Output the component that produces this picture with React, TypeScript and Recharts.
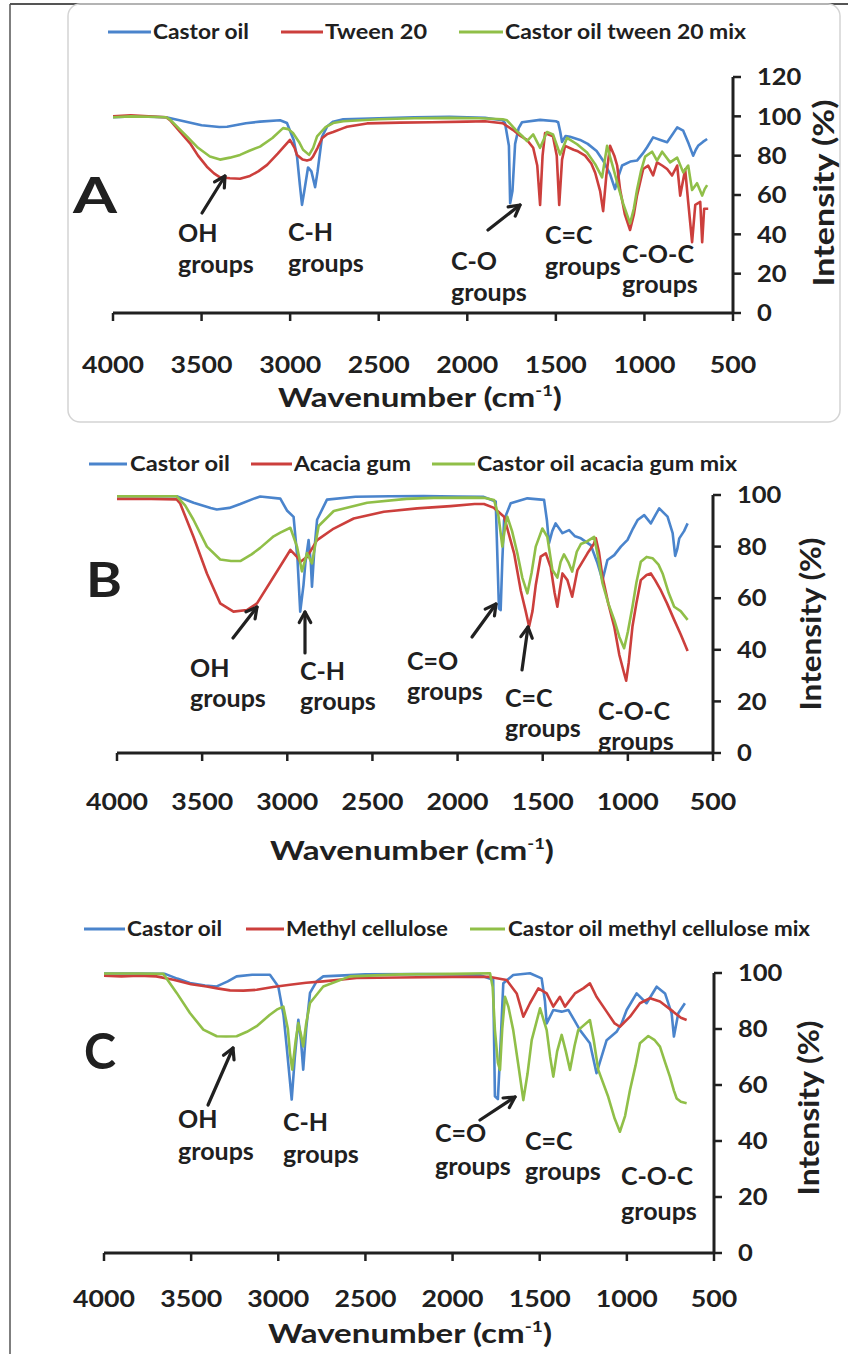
import React from "react";
import { LineChart, Line, XAxis, YAxis } from "recharts";

const FONT = "Lato, 'Open Sans', Arial, sans-serif";
const INK = "#202020";
const BLUE = "#4a84cc";
const RED = "#cc3f3c";
const GREEN = "#90bf48";

const xTicks = [4000, 3500, 3000, 2500, 2000, 1500, 1000, 500];
const yTicksA = [0, 20, 40, 60, 80, 100, 120];
const yTicksBC = [0, 20, 40, 60, 80, 100];

type Pt = [number, number]; // [wavenumber, intensity %]

// Panel A: castor oil / tween 20 / mix
const castorA: Pt[] = [
  [4000, 99.5], [3900, 100], [3800, 99.8], [3700, 99.5], [3600, 97.5], [3500, 95.5], [3400, 94.6], [3356, 94.7],
  [3250, 96.5], [3170, 97.3], [3057, 98], [3018, 96.6], [2980, 88], [2961, 79.5], [2945, 65], [2933, 55], [2920, 62],
  [2899, 74], [2880, 72], [2859, 64], [2845, 72], [2820, 89.6], [2790, 95], [2757, 97.3], [2700, 98.5], [2500, 99],
  [2300, 99.5], [2100, 99.8], [1900, 99.2], [1800, 98], [1787, 96.6], [1765, 85], [1758, 55.8], [1745, 62], [1730, 86],
  [1710, 94], [1691, 97], [1589, 98.2], [1500, 97.5], [1487, 97], [1475, 92], [1465, 87], [1445, 90], [1420, 89.6],
  [1363, 88], [1320, 86], [1270, 82.4], [1230, 77], [1194, 70.6], [1166, 63], [1145, 70], [1126, 75], [1080, 77],
  [1042, 77.5], [1010, 81], [985, 84.3], [951, 89.3], [910, 88], [872, 86.8], [840, 91], [815, 94.4], [781, 92.7],
  [750, 86], [725, 80], [710, 83], [697, 85], [670, 87], [646, 88.5],
];
const tweenA: Pt[] = [
  [4000, 100], [3900, 100.5], [3800, 100], [3700, 99.5], [3678, 98], [3620, 92], [3565, 86.3], [3520, 80], [3470, 74.4],
  [3430, 71], [3396, 69], [3340, 68.5], [3283, 68.3], [3227, 69.7], [3180, 72], [3130, 75.3], [3070, 81], [3001, 88],
  [2975, 84], [2961, 80.3], [2930, 78], [2905, 77.5], [2885, 78], [2871, 79.5], [2845, 84], [2820, 88.8], [2790, 91],
  [2757, 92], [2700, 94], [2679, 94.7], [2566, 96.4], [2380, 96.8], [2200, 97], [2003, 97.3], [1900, 97.5], [1800, 96.5],
  [1741, 93], [1700, 90], [1663, 88], [1628, 84], [1605, 75], [1589, 55], [1575, 80], [1561, 91.5], [1516, 89.8],
  [1495, 80], [1481, 55], [1465, 78], [1448, 85], [1400, 83], [1380, 82.4], [1335, 80], [1300, 76], [1278, 71.3],
  [1250, 62], [1233, 51.8], [1215, 70], [1194, 85], [1170, 80], [1154, 75], [1137, 62.5], [1110, 50], [1081, 42.2],
  [1060, 50], [1042, 59.7], [1007, 73.2], [979, 74.9], [951, 70], [929, 76.6], [900, 75], [872, 73.2], [844, 69.9],
  [815, 75], [798, 59.7], [770, 73], [753, 56.5], [731, 36], [713, 55], [685, 56.5], [674, 36], [663, 53], [640, 53],
];
const mixA: Pt[] = [
  [4000, 99.5], [3900, 100], [3800, 99.8], [3700, 99.5], [3680, 98.5], [3630, 94], [3583, 89.8], [3520, 84], [3453, 79.6],
  [3396, 78], [3340, 79], [3283, 80.4], [3230, 82.5], [3170, 84.6], [3100, 89], [3040, 94], [3010, 93.5], [2984, 91.5],
  [2950, 87], [2927, 83], [2893, 80.4], [2870, 84], [2848, 89.8], [2800, 94.5], [2757, 96.6], [2700, 97.5], [2500, 98.5],
  [2300, 99], [2100, 99.2], [1928, 99], [1800, 98.5], [1776, 98], [1720, 92.5], [1690, 90], [1663, 87.4], [1628, 90.8],
  [1589, 84], [1550, 92], [1516, 90.8], [1476, 80.6], [1437, 89], [1380, 85.8], [1324, 81.6], [1278, 75.7], [1239, 69],
  [1211, 85], [1177, 74], [1150, 65], [1120, 55.6], [1081, 45.6], [1060, 53], [1042, 62.5], [1020, 72], [996, 79.5],
  [957, 82], [929, 77.5], [900, 82], [855, 76.6], [815, 79], [781, 71.5], [753, 75], [731, 62.5], [703, 66], [674, 59.7],
  [660, 63], [646, 65],
];

// Panel B: castor oil / acacia gum / mix
const castorB: Pt[] = [
  [4000, 99.5], [3800, 99.5], [3649, 99.5], [3550, 97], [3450, 95], [3414, 94.4], [3340, 95], [3276, 96.5], [3200, 98.5],
  [3159, 99.4], [3041, 98.6], [3002, 94], [2963, 91.5], [2940, 75], [2924, 54.8], [2905, 65], [2894, 73.5], [2875, 82.5],
  [2862, 74], [2855, 64.5], [2842, 78], [2825, 90.4], [2767, 98.2], [2600, 99.3], [2400, 99.5], [2200, 99.6], [2000, 99.4],
  [1850, 99.3], [1776, 97.5], [1757, 56], [1747, 55.4], [1737, 75], [1727, 90.3], [1688, 96.8], [1590, 98.7], [1492, 98.1],
  [1475, 90], [1463, 81.3], [1444, 86], [1424, 89], [1384, 85.2], [1345, 86.4], [1310, 84], [1276, 83.2], [1218, 80.6],
  [1178, 73.5], [1149, 67], [1120, 74.8], [1080, 76.7], [1041, 80], [1002, 82.6], [970, 87], [943, 90.3], [904, 92.2],
  [865, 89], [840, 92], [816, 94.8], [767, 91.6], [737, 85.2], [722, 76.4], [710, 79], [698, 83.2], [670, 86], [649, 89],
];
const acaciaB: Pt[] = [
  [4000, 98.5], [3800, 98.5], [3650, 98.3], [3629, 96.7], [3551, 83.8], [3472, 69.6], [3394, 58], [3316, 54.8],
  [3237, 55.4], [3178, 58], [3080, 68.3], [2982, 78.7], [2943, 76], [2924, 74], [2905, 75], [2884, 76], [2825, 82.5],
  [2727, 87], [2610, 90.9], [2433, 93.5], [2237, 94.8], [2041, 95.7], [1900, 96.5], [1845, 96.5], [1786, 95], [1727, 91.6],
  [1668, 77.4], [1629, 63], [1600, 55], [1580, 49], [1560, 55], [1541, 65], [1512, 76.1], [1482, 77.4], [1453, 72],
  [1430, 62], [1414, 56.7], [1400, 63], [1384, 69.6], [1355, 67], [1327, 60.6], [1296, 70.9], [1237, 77.4], [1200, 81],
  [1188, 83.2], [1170, 78], [1149, 68.3], [1115, 58], [1080, 49], [1050, 38], [1022, 30.9], [1010, 28], [995, 35],
  [973, 49], [950, 58], [924, 67], [890, 69], [865, 69.6], [840, 67], [806, 63], [770, 58], [728, 51.6], [690, 46],
  [649, 39.5],
];
const mixB: Pt[] = [
  [4000, 99.5], [3800, 99.5], [3649, 99.5], [3600, 96], [3551, 90.4], [3472, 80], [3394, 75], [3330, 74.4], [3276, 74.4],
  [3210, 77], [3159, 79.5], [3080, 84], [3041, 85.4], [2982, 87.3], [2943, 80], [2914, 70.4], [2884, 77.5], [2855, 73.5],
  [2816, 88], [2727, 93.8], [2531, 97], [2300, 98.5], [2139, 98.9], [1900, 99], [1845, 98.9], [1786, 98.1], [1760, 92],
  [1737, 80], [1720, 88], [1708, 91.6], [1680, 86], [1649, 77.4], [1620, 68], [1590, 61.9], [1565, 70], [1541, 80],
  [1502, 87], [1473, 83.8], [1443, 70.9], [1414, 68], [1395, 74], [1375, 77], [1350, 74], [1327, 70.3], [1300, 78],
  [1276, 81], [1240, 82], [1198, 83.8], [1175, 76], [1149, 65.8], [1115, 58], [1080, 51.6], [1050, 45], [1022, 40.6],
  [1000, 47], [973, 56.7], [950, 66], [924, 74.1], [890, 76], [855, 75.5], [820, 73], [796, 69.6], [760, 62], [728, 56.7],
  [690, 55], [649, 51.6],
];

// Panel C: castor oil / methyl cellulose / mix
const castorC: Pt[] = [
  [4000, 99.8], [3800, 99.8], [3650, 99.7], [3580, 98], [3507, 96.4], [3420, 95.5], [3353, 95.2], [3290, 97], [3239, 98.8],
  [3150, 99.4], [3048, 99.4], [3000, 95.2], [2970, 85], [2952, 73.8], [2923, 54.8], [2905, 70], [2885, 83.3], [2870, 76],
  [2857, 65.5], [2840, 80], [2818, 92.9], [2780, 97], [2742, 98.8], [2500, 99.5], [2200, 99.6], [2000, 99.5], [1850, 99.4],
  [1767, 97.6], [1757, 56], [1740, 55], [1728, 70], [1709, 96.3], [1652, 99.3], [1556, 99.9], [1489, 98.1], [1470, 90],
  [1460, 82], [1422, 86.8], [1374, 86.2], [1336, 86.8], [1300, 83], [1269, 79.6], [1212, 74.9], [1174, 64.2], [1145, 70.1],
  [1116, 76], [1059, 79], [1030, 82], [1001, 86.8], [944, 92.7], [887, 89.2], [829, 95.1], [781, 92.7], [743, 85.6],
  [730, 77.3], [705, 85.6], [667, 89.2],
];
const methylC: Pt[] = [
  [4000, 99], [3900, 98.8], [3800, 99], [3700, 98.8], [3602, 97.6], [3500, 96], [3411, 95.2], [3350, 94.5], [3277, 93.8],
  [3200, 93.7], [3124, 94], [3030, 95], [2933, 95.8], [2840, 96.5], [2742, 97], [2550, 98.2], [2300, 98.4], [2000, 98.6],
  [1785, 98.6], [1690, 97.5], [1632, 92.7], [1594, 84.4], [1556, 89.2], [1508, 94.5], [1460, 92.7], [1422, 88],
  [1384, 91.5], [1355, 88], [1298, 92.7], [1250, 94.5], [1212, 96.3], [1174, 91.5], [1116, 86.2], [1070, 82], [1040, 80.8],
  [982, 84.4], [925, 89.2], [867, 91], [810, 89.8], [734, 86.2], [690, 84], [657, 83.2],
];
const mixC: Pt[] = [
  [4000, 99.8], [3800, 99.8], [3660, 99.7], [3583, 92.9], [3507, 85.7], [3430, 79.8], [3353, 77.4], [3300, 77.3],
  [3239, 77.4], [3180, 79], [3124, 81], [3050, 85], [3009, 86.9], [2971, 88], [2945, 80], [2933, 71.4], [2920, 65.5],
  [2900, 76], [2885, 82.1], [2870, 78], [2857, 73.8], [2840, 82], [2818, 89.3], [2742, 95.2], [2589, 98.8], [2300, 99.5],
  [2000, 99.7], [1785, 99.9], [1770, 95], [1757, 79.6], [1740, 68], [1728, 65.4], [1715, 80], [1699, 91.5], [1680, 88],
  [1652, 79.6], [1620, 66], [1594, 54.6], [1570, 64], [1546, 76], [1498, 87.4], [1460, 79.6], [1440, 70], [1422, 63],
  [1400, 72], [1374, 77.9], [1350, 72], [1326, 65.4], [1300, 74], [1279, 79.6], [1212, 83.2], [1190, 76], [1164, 65.4],
  [1107, 55.8], [1070, 48], [1040, 43.3], [1010, 49], [982, 58.2], [950, 67], [925, 74.9], [877, 77.5], [840, 76],
  [810, 73.7], [780, 68], [753, 63], [730, 58], [714, 55.2], [690, 54], [657, 53.5],
];

const rows = (pts: Pt[]) => pts.map(([wn, t]) => ({ wn, t }));

function XTick(props: any) {
  const { x, y, payload, dy, size } = props;
  const s = String(payload.value);
  return (
    <text x={x} y={y + dy} textAnchor="middle" fontFamily={FONT} fontWeight={700} fontSize={size} fill={INK}
      textLength={s.length * 15.5} lengthAdjust="spacingAndGlyphs">{s}</text>
  );
}

function YTick(props: any) {
  const { x, y, payload } = props;
  const s = String(payload.value);
  return (
    <text x={x + 16} y={y} dy="0.36em" textAnchor="start" fontFamily={FONT} fontWeight={700} fontSize={23} fill={INK}
      textLength={s.length * 14.8} lengthAdjust="spacingAndGlyphs">{s}</text>
  );
}

type Panel = {
  top: number; height: number; left: number; plotTop: number; xH: number; yW: number;
  yMax: number; yTicks: number[]; dy: number; tickSize: number; series: { pts: Pt[]; color: string }[];
};

function Spectrum({ p }: { p: Panel }) {
  return (
    <div style={{ position: "absolute", left: 0, top: p.top }}>
      <LineChart width={848} height={p.height} margin={{ top: p.plotTop, right: 0, bottom: 0, left: p.left }}>
        <XAxis dataKey="wn" type="number" domain={[500, 4000]} reversed ticks={xTicks} allowDataOverflow
          height={p.xH} tickSize={8} tickMargin={0}
          axisLine={{ stroke: INK, strokeWidth: 3 }} tickLine={{ stroke: INK, strokeWidth: 2.5 }}
          tick={(t: any) => <XTick {...t} dy={p.dy} size={p.tickSize} />} />
        <YAxis orientation="right" type="number" domain={[0, p.yMax]} ticks={p.yTicks} width={p.yW}
          tickSize={8} tickMargin={0} axisLine={{ stroke: INK, strokeWidth: 3 }}
          tickLine={{ stroke: INK, strokeWidth: 2.5 }} tick={(t: any) => <YTick {...t} />} />
        {p.series.map((s, i) => (
          <Line key={i} data={rows(s.pts)} dataKey="t" type="linear" stroke={s.color} strokeWidth={2.6}
            strokeLinejoin="round" dot={false} activeDot={false} isAnimationActive={false} />
        ))}
      </LineChart>
    </div>
  );
}

const panels: Panel[] = [
  { top: 0, height: 413, left: 113, plotTop: 77, xH: 100, yW: 115, yMax: 120, yTicks: yTicksA, dy: 52, tickSize: 23,
    series: [{ pts: castorA, color: BLUE }, { pts: tweenA, color: RED }, { pts: mixA, color: GREEN }] },
  { top: 430, height: 440, left: 117, plotTop: 65, xH: 117, yW: 135, yMax: 100, yTicks: yTicksBC, dy: 49, tickSize: 23,
    series: [{ pts: castorB, color: BLUE }, { pts: acaciaB, color: RED }, { pts: mixB, color: GREEN }] },
  { top: 880, height: 474, left: 104, plotTop: 93, xH: 101, yW: 134, yMax: 100, yTicks: yTicksBC, dy: 46, tickSize: 22,
    series: [{ pts: castorC, color: BLUE }, { pts: methylC, color: RED }, { pts: mixC, color: GREEN }] },
];

function Txt({ x, y, size = 25, len, anchor = "start", rotate, children }: any) {
  return (
    <text x={x} y={y} fontFamily={FONT} fontWeight={700} fontSize={size} fill={INK} textAnchor={anchor}
      textLength={len} lengthAdjust={len ? "spacingAndGlyphs" : undefined}
      transform={rotate ? `rotate(${rotate} ${x} ${y})` : undefined}>{children}</text>
  );
}

function Arrow({ x1, y1, x2, y2 }: any) {
  const a = Math.atan2(y2 - y1, x2 - x1);
  const h = 12;
  const p1 = [x2 - h * Math.cos(a - 0.5), y2 - h * Math.sin(a - 0.5)];
  const p2 = [x2 - h * Math.cos(a + 0.5), y2 - h * Math.sin(a + 0.5)];
  return (
    <g stroke={INK} strokeWidth={3.2} fill="none" strokeLinecap="round" strokeLinejoin="round">
      <line x1={x1} y1={y1} x2={x2} y2={y2} />
      <polyline points={`${p1[0]},${p1[1]} ${x2},${y2} ${p2[0]},${p2[1]}`} />
    </g>
  );
}

function LegendRow({ y, items }: any) {
  return (
    <g>
      {items.map((it: any, i: number) => (
        <g key={i}>
          <line x1={it.l1} x2={it.l2} y1={y} y2={y} stroke={it.color} strokeWidth={3} />
          <Txt x={it.tx} y={y + 7} size={21} len={it.len}>{it.label}</Txt>
        </g>
      ))}
    </g>
  );
}

function Label2({ x, y, a, b, gap = 31 }: any) {
  return (
    <g>
      <Txt x={x} y={y}>{a}</Txt>
      <Txt x={x} y={y + gap}>{b}</Txt>
    </g>
  );
}

function Title({ x, y, size = 27 }: any) {
  return (
    <text x={x} y={y} fontFamily={FONT} fontWeight={700} fontSize={size} fill={INK} textAnchor="middle"
      textLength={284} lengthAdjust="spacingAndGlyphs">
      Wavenumber (cm<tspan fontSize={15} dy={-11}>-1</tspan><tspan dy={11}>)</tspan>
    </text>
  );
}

export default function App() {
  return (
    <div style={{ position: "absolute", left: 0, top: 0, width: 848, height: 1354, background: "#fff", overflow: "hidden" }}>
      {panels.map((p, i) => <Spectrum key={i} p={p} />)}
      <svg width={848} height={1354} style={{ position: "absolute", left: 0, top: 0, pointerEvents: "none" }}>
        {/* frame */}
        <line x1={10} y1={4} x2={848} y2={4} stroke="#555" strokeWidth={2} />
        <line x1={10} y1={4} x2={10} y2={1354} stroke="#555" strokeWidth={1.5} />
        <rect x={68} y={4} width={772} height={418} rx={12} fill="none" stroke="#d4d4d4" strokeWidth={1.5} />

        {/* legends */}
        <LegendRow y={32} items={[
          { l1: 108, l2: 151, tx: 153, len: 96, color: BLUE, label: "Castor oil" },
          { l1: 281, l2: 323, tx: 325, len: 102, color: RED, label: "Tween 20" },
          { l1: 459, l2: 503, tx: 505, len: 241, color: GREEN, label: "Castor oil tween 20 mix" },
        ]} />
        <LegendRow y={464} items={[
          { l1: 89, l2: 127, tx: 130, len: 100, color: BLUE, label: "Castor oil" },
          { l1: 251, l2: 292, tx: 294, len: 117, color: RED, label: "Acacia gum" },
          { l1: 432, l2: 475, tx: 477, len: 260, color: GREEN, label: "Castor oil acacia  gum mix" },
        ]} />
        <LegendRow y={929} items={[
          { l1: 84, l2: 125, tx: 127, len: 95, color: BLUE, label: "Castor oil" },
          { l1: 246, l2: 284, tx: 286, len: 162, color: RED, label: "Methyl cellulose" },
          { l1: 470, l2: 505, tx: 508, len: 302, color: GREEN, label: "Castor oil methyl cellulose mix" },
        ]} />

        {/* panel letters */}
        <Txt x={95} y={213} size={50} anchor="middle" len={44}>A</Txt>
        <Txt x={104} y={597} size={48} anchor="middle" len={36}>B</Txt>
        <Txt x={100} y={1069} size={50} anchor="middle" len={32}>C</Txt>

        {/* axis titles */}
        <Title x={420} y={407} />
        <Title x={412} y={860} />
        <Title x={410} y={1343} size={26} />
        <Txt x={834} y={193} size={28} anchor="middle" rotate={-90} len={187}>Intensity (%)</Txt>
        <Txt x={821} y={624} size={28} anchor="middle" rotate={-90} len={173}>Intensity (%)</Txt>
        <Txt x={819} y={1108} size={28} anchor="middle" rotate={-90} len={175}>Intensity (%)</Txt>

        {/* annotations A */}
        <Label2 x={178} y={242} a="OH" b="groups" />
        <Label2 x={288} y={241} a="C-H" b="groups" />
        <Label2 x={451} y={270} a="C-O" b="groups" />
        <Label2 x={545} y={244} a="C=C" b="groups" />
        <Label2 x={622} y={263} a="C-O-C" b="groups" gap={30} />
        <Arrow x1={202} y1={213} x2={225} y2={176} />
        <Arrow x1={488} y1={230} x2={520} y2={205} />

        {/* annotations B */}
        <Label2 x={190} y={677} a="OH" b="groups" gap={30} />
        <Label2 x={300} y={680} a="C-H" b="groups" gap={30} />
        <Label2 x={407} y={670} a="C=O" b="groups" gap={30} />
        <Label2 x={505} y={707} a="C=C" b="groups" gap={30} />
        <Label2 x={598} y={720} a="C-O-C" b="groups" gap={30} />
        <Arrow x1={233} y1={638} x2={257} y2={607} />
        <Arrow x1={305} y1={653} x2={305} y2={612} />
        <Arrow x1={472} y1={637} x2={496} y2={604} />
        <Arrow x1={522} y1={670} x2={528} y2={627} />

        {/* annotations C */}
        <Label2 x={178} y={1128} a="OH" b="groups" gap={32} />
        <Label2 x={283} y={1131} a="C-H" b="groups" gap={32} />
        <Label2 x={435} y={1142} a="C=O" b="groups" gap={33} />
        <Label2 x={525} y={1150} a="C=C" b="groups" gap={30} />
        <Label2 x={621} y={1185} a="C-O-C" b="groups" gap={35} />
        <Arrow x1={208} y1={1105} x2={233} y2={1048} />
        <Arrow x1={480} y1={1120} x2={515} y2={1097} />
      </svg>
    </div>
  );
}
